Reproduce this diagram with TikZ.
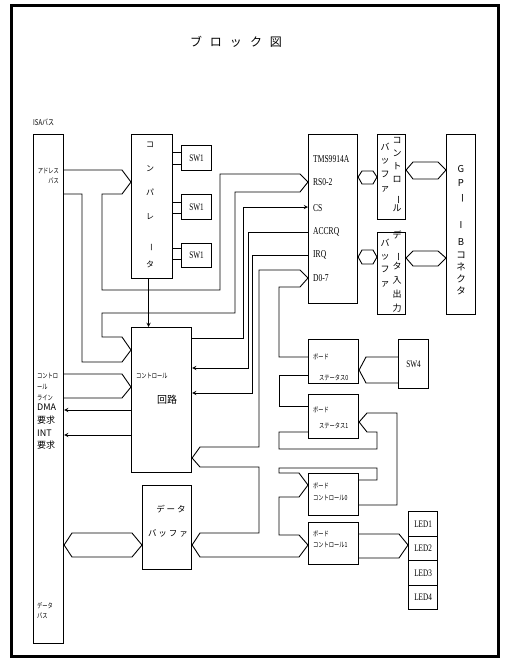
\documentclass[tikz,border=0pt]{standalone}
\usepackage{fontspec}
\usepackage{graphicx}
\usetikzlibrary{arrows, positioning, calc}
\setmainfont{Noto Sans CJK JP}
\newfontfamily\jpn[FakeStretch=0.75]{Noto Sans CJK JP}
\newfontfamily\lat[FakeStretch=0.72]{Liberation Serif}
\newcommand{\vbar}{\rotatebox{-90}{ー}}

\begin{document}
\begin{tikzpicture}[x=1pt, y=-1pt, >=stealth,
    box/.style={draw, line width=1.1pt, inner sep=0pt, anchor=north west},
    wire/.style={line width=0.9pt},
    tiny/.style={font=\jpn\fontsize{7}{10}\selectfont, inner sep=0pt},
    tag/.style={font=\lat\fontsize{10.5}{10.5}\selectfont, inner sep=0pt, anchor=west}]
    \useasboundingbox (0,0) rectangle (510,672);
    % Cornice
    \draw[line width=3pt] (11,5) rectangle (498,656);
    \node[font=\fontsize{12}{12}\selectfont] (title) at (236,42)
        {ブ\hspace{8pt}ロ\hspace{8pt}ッ\hspace{8pt}ク\hspace{8pt}図};

    % Bus ISA
    \node[box, minimum width=30pt, minimum height=509pt] (isa) at (33,134) {};
    \node[tiny, anchor=west, font=\jpn\fontsize{8}{8}\selectfont] (isalbl) at (33,122) {ISAバス};
    \node[tiny, align=right, anchor=north east] (addrlbl) at (59,168) {アドレス\\バス};
    \node[tiny, align=left, anchor=north west, font=\jpn\fontsize{7}{11}\selectfont] (ctllbl) at (37,373) {コントロ\\ール\\ライン};
    \node[tiny, align=left, anchor=north west, font=\fontsize{9}{12.7}\selectfont] (reqlbl) at (37,404) {DMA\\要求\\INT\\要求};
    \node[tiny, align=left, anchor=north west] (datalbl) at (37,602) {データ\\バス};

    % Comparatore e interruttori
    \node[box, minimum width=41pt, minimum height=144pt] (cmp) at (131,134) {};
    \node[align=center, inner sep=0pt, font=\fontsize{8}{24}\selectfont] (cmptxt) at (150,205)
        {コ\\ン\\パ\\レ\\\vbar\\タ};
    \node[box, minimum width=30pt, minimum height=25pt, font=\lat\fontsize{10}{10}\selectfont] (sw1a) at (181,145) {SW1};
    \node[box, minimum width=30pt, minimum height=25pt, font=\lat\fontsize{10}{10}\selectfont] (sw1b) at (181,194) {SW1};
    \node[box, minimum width=30pt, minimum height=24pt, font=\lat\fontsize{10}{10}\selectfont] (sw1c) at (181,243) {SW1};
    \foreach \s/\a/\b in {sw1a/152/164, sw1b/202/213, sw1c/248/259} {
        \draw[wire] (cmp.east |- 0,\a) -- (\s.west |- 0,\a);
        \draw[wire] (cmp.east |- 0,\b) -- (\s.west |- 0,\b);
    }

    % Circuito di controllo
    \node[box, minimum width=60pt, minimum height=145pt] (ctl) at (131,327) {};
    \node[tiny, anchor=west] (ctltxt) at (136,376) {コントロール};
    \node[inner sep=0pt, font=\fontsize{10}{10}\selectfont] (ctltxt2) at (167,400) {回路};
    \draw[wire,->] ([xshift=-3.5pt]cmp.south) -- ([xshift=-3.5pt]cmp.south |- ctl.north);

    % Buffer dati
    \node[box, minimum width=49pt, minimum height=84pt] (dbf) at (142,485) {};
    \node[inner sep=0pt, font=\fontsize{8.5}{8.5}\selectfont] (dbftxt) at (171,509) {デ\hspace{2pt}ー\hspace{2pt}タ};
    \node[inner sep=0pt, font=\fontsize{8.5}{8.5}\selectfont] (dbftxt2) at (168,533) {バ\hspace{2pt}ッ\hspace{2pt}フ\hspace{2pt}ァ};

    % TMS9914A
    \node[box, minimum width=49pt, minimum height=169pt] (tms) at (308,134) {};
    \node[tag] (t0) at (313,159) {TMS9914A};
    \node[tag] (t1) at (313,182) {RS0-2};
    \node[tag] (t2) at (313,208) {CS};
    \node[tag] (t3) at (313,232) {ACCRQ};
    \node[tag] (t4) at (313,255) {IRQ};
    \node[tag] (t5) at (313,278) {D0-7};

    % Buffer GP-IB
    \node[box, minimum width=28pt, minimum height=85pt] (cbuf) at (377,134) {};
    \node[align=center, inner sep=0pt, font=\fontsize{9}{13}\selectfont] (cbuftxt) at (397,174.5) {コ\\ン\\ト\\ロ\\\vbar\\ル};
    \node[align=center, inner sep=0pt, font=\fontsize{9}{13.7}\selectfont] (cbuftxt2) at (385,167.5) {バ\\ッ\\フ\\ァ};
    \node[box, minimum width=28pt, minimum height=82pt] (dbuf) at (377,232) {};
    \node[align=center, inner sep=0pt, font=\fontsize{9}{13.8}\selectfont] (dbuftxt) at (397,271.5) {デ\\\vbar\\タ\\入\\出\\力};
    \node[align=center, inner sep=0pt, font=\fontsize{9}{13.3}\selectfont] (dbuftxt2) at (385,263) {バ\\ッ\\フ\\ァ};
    \node[box, minimum width=29pt, minimum height=180pt] (gpib) at (446,134) {};
    \foreach \c [count=\i] / \y in {G/169, P/183, \vbar/198, I/225, B/242, コ/255, ネ/267, ク/279, タ/291}
        \node[inner sep=0pt, font=\fontsize{9.5}{9.5}\selectfont] (gpib\i) at (461,\y) {\c};

    % Schede
    \node[box, minimum width=50pt, minimum height=44pt] (bs0) at (308,339) {};
    \node[tiny, anchor=west] (bs0a) at (313,357) {ボード};
    \node[tiny, anchor=west] (bs0b) at (319,378) {ステータス0};
    \node[box, minimum width=50pt, minimum height=44pt] (bs1) at (308,394) {};
    \node[tiny, anchor=west] (bs1a) at (313,410) {ボード};
    \node[tiny, anchor=west] (bs1b) at (319,426) {ステータス1};
    \node[box, minimum width=50pt, minimum height=42pt] (bc0) at (308,473) {};
    \node[tiny, anchor=west] (bc0a) at (313,486) {ボード};
    \node[tiny, anchor=west] (bc0b) at (313,498) {コントロール0};
    \node[box, minimum width=50pt, minimum height=42pt] (bc1) at (308,522) {};
    \node[tiny, anchor=west] (bc1a) at (313,534) {ボード};
    \node[tiny, anchor=west] (bc1b) at (313,545) {コントロール1};
    \node[box, minimum width=30pt, minimum height=49pt, font=\lat\fontsize{10}{10}\selectfont] (sw4) at (398,339) {SW4};
    \foreach \n/\y in {1/511, 2/535.5, 3/560, 4/584.5}
        \node[box, minimum width=29pt, minimum height=24.5pt, font=\lat\fontsize{10}{10}\selectfont] (led\n) at (408,\y) {LED\n};

    % Bus indirizzi
    \draw[wire] (isa.east |- 0,170) -- (122,170) -- (cmp.west |- 0,182) -- (122,194) -- (102,194) -- (102,290)
        -- (220,290) -- (220,174) -- (300,174) -- (tms.west |- 0,182) -- (300,192) -- (235,192) -- (235,313)
        -- (102,313) -- (102,337) -- (122,337) -- (ctl.west |- 0,350) -- (122,362) -- (82,362) -- (82,194)
        -- (isa.east |- 0,194);
    % Linee di controllo
    \draw[wire] (isa.east |- 0,374) -- (122,374) -- (ctl.west |- 0,387) -- (122,398) -- (isa.east |- 0,398);
    \draw[wire,->] (ctl.west |- 0,410) -- (isa.east |- 0,410);
    \draw[wire,->] (ctl.west |- 0,435) -- (isa.east |- 0,435);
    \draw[wire,->] (ctl.east |- 0,338) -- (243,338) -- (243,207) -- (tms.west |- 0,207);
    \draw[wire,->] (tms.west |- 0,232) -- (248,232) -- (248,368) -- (ctl.east |- 0,368);
    \draw[wire,->] (tms.west |- 0,255) -- (252,255) -- (252,393) -- (ctl.east |- 0,393);

    % Bus dati
    \draw[wire] (isa.east |- 0,545) -- (72,533) -- (132,533) -- (dbf.west |- 0,545) -- (132,557) -- (72,557) -- cycle;
    \draw[wire] (bs0.west |- 0,357) -- (279,357) -- (279,287) -- (300,287) -- (tms.west |- 0,278) -- (300,270)
        -- (259,270) -- (259,447) -- (200,447) -- (ctl.east |- 0,458) -- (200,467) -- (259,467) -- (259,533)
        -- (200,533) -- (dbf.east |- 0,545) -- (200,557) -- (299,557) -- (bc1.west |- 0,545) -- (299,535)
        -- (279,535) -- (279,497) -- (299,497) -- (bc0.west |- 0,485) -- (299,473) -- (279,473) -- (279,468)
        -- (377,468) -- (377,480) -- (bc0.east |- 0,480);
    \draw[wire] (bc0.east |- 0,505) -- (397,505) -- (397,413) -- (367,413) -- (bs1.east |- 0,422) -- (367,432)
        -- (377,432) -- (377,449) -- (279,449) -- (279,432) -- (bs1.west |- 0,432);
    \draw[wire] (bs1.west |- 0,406) -- (279,406) -- (279,375) -- (bs0.west |- 0,375);

    % Collegamenti GP-IB
    \draw[wire] (tms.east |- 0,177) -- (362,171) -- (373,171) -- (cbuf.west |- 0,177) -- (373,184) -- (362,184) -- cycle;
    \draw[wire] (tms.east |- 0,257) -- (362,250) -- (373,250) -- (dbuf.west |- 0,257) -- (373,264) -- (362,264) -- cycle;
    \draw[wire] (cbuf.east |- 0,170) -- (413,162) -- (438,162) -- (gpib.west |- 0,170) -- (438,179) -- (413,179) -- cycle;
    \draw[wire] (dbuf.east |- 0,258) -- (413,251) -- (438,251) -- (gpib.west |- 0,258) -- (438,266) -- (413,266) -- cycle;

    % SW4 e LED
    \draw[wire] (sw4.west |- 0,357) -- (366,357) -- (bs0.east |- 0,370) -- (366,383) -- (sw4.west |- 0,383);
    \draw[wire] (bc1.east |- 0,534) -- (399,534) -- (led2.west |- 0,545) -- (399,558) -- (bc1.east |- 0,558);
\end{tikzpicture}
\end{document}
